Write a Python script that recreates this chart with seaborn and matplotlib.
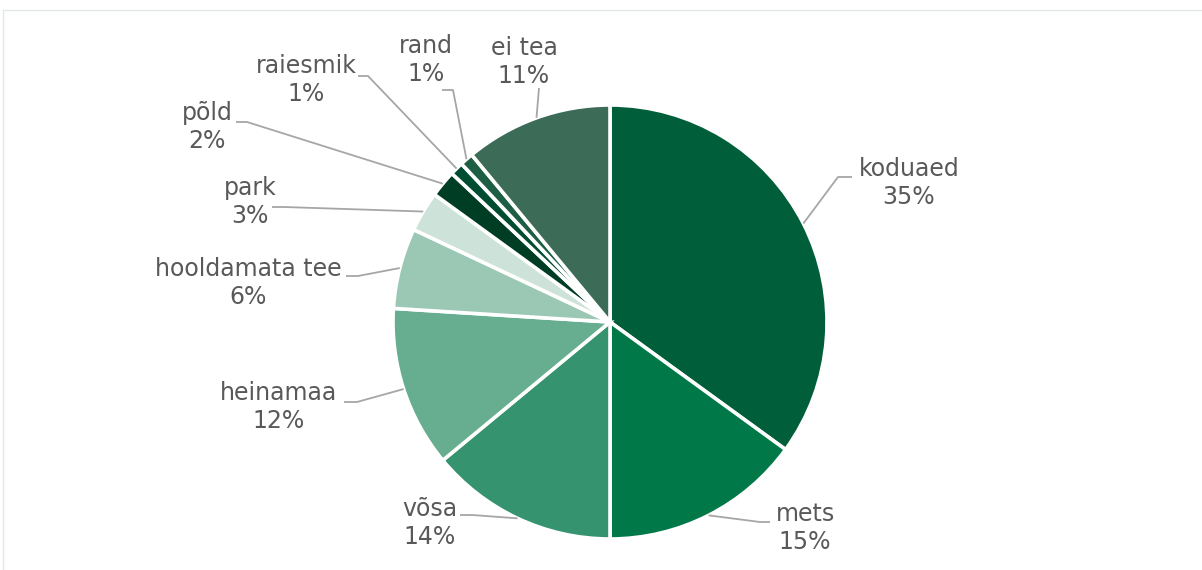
import numpy as np
import matplotlib
matplotlib.use("Agg")
import matplotlib.pyplot as plt
from matplotlib.patches import Rectangle
import seaborn as sns

# Shares of places (percent), clockwise from 12 o'clock
categories = ["koduaed", "mets", "võsa", "heinamaa", "hooldamata tee",
              "park", "põld", "raiesmik", "rand", "ei tea"]
values = [35, 15, 14, 12, 6, 3, 2, 1, 1, 11]
colors = ["#005E3A", "#007847", "#359370", "#67AD8F", "#9AC8B5",
          "#CDE3D9", "#003D25", "#004D31", "#1E5E44", "#3C6B57"]

sns.set_theme(style="white")
plt.rcParams["font.family"] = ["DejaVu Sans"]

W, H = 1202, 570
fig = plt.figure(figsize=(W / 100, H / 100), dpi=100)
ax = fig.add_axes([0, 0, 1, 1])


def py(y):
    """Convert a top-down pixel row into the axes' y coordinate."""
    return H - y


cx, cy, R = 610, py(322), 217
wedges, _ = ax.pie(values, colors=sns.color_palette(colors), startangle=90,
                   counterclock=False, center=(cx, cy), radius=R,
                   wedgeprops=dict(edgecolor="white", linewidth=2.6),
                   frame=True)
ax.set_xlim(0, W)
ax.set_ylim(0, H)
ax.axis("off")

# Label layout: text centre, leader elbow and leader end (pixel coordinates)
layout = [
    dict(text=(909, 183), elbow=(838, 177), end=(852, 177)),
    dict(text=(805, 528), elbow=(760, 522), end=(770, 522)),
    dict(text=(430, 523), elbow=(472, 515), end=(460, 515)),
    dict(text=(279, 407), elbow=(357, 402), end=(344, 402)),
    dict(text=(248, 283), elbow=(358, 276), end=(346, 276)),
    dict(text=(250, 202), elbow=(284, 207), end=(272, 207)),
    dict(text=(207, 127), elbow=(247, 122), end=(236, 122)),
    dict(text=(306, 80), elbow=(368, 76), end=(358, 76)),
    dict(text=(426, 60), elbow=(453, 90), end=(442, 90)),
    dict(text=(524, 62), elbow=(539, 88), end=(539, 88)),
]

line_color = "#A6A6A6"
text_color = "#595959"
for w, name, val, lay in zip(wedges, categories, values, layout):
    mid = np.deg2rad((w.theta1 + w.theta2) / 2)
    ax_x = cx + R * np.cos(mid)
    ax_y = cy + R * np.sin(mid)
    ex, ey = lay["elbow"]
    hx, hy = lay["end"]
    ax.plot([ax_x, ex, hx], [ax_y, py(ey), py(hy)], color=line_color,
            lw=1.3, solid_capstyle="butt", zorder=1)
    tx, ty = lay["text"]
    ax.text(tx, py(ty), f"{name}\n{val}%", ha="center", va="center",
            fontsize=17, color=text_color, linespacing=1.2)

# Light chart-area border along the top and left
fig.patches.append(Rectangle((3.0 / W, -0.1), 1.2, (H - 9.5) / H + 0.1,
                             transform=fig.transFigure, fill=False,
                             edgecolor="#E3E8E6", linewidth=1.0))

fig.savefig("out.png", dpi=100, facecolor="white")
